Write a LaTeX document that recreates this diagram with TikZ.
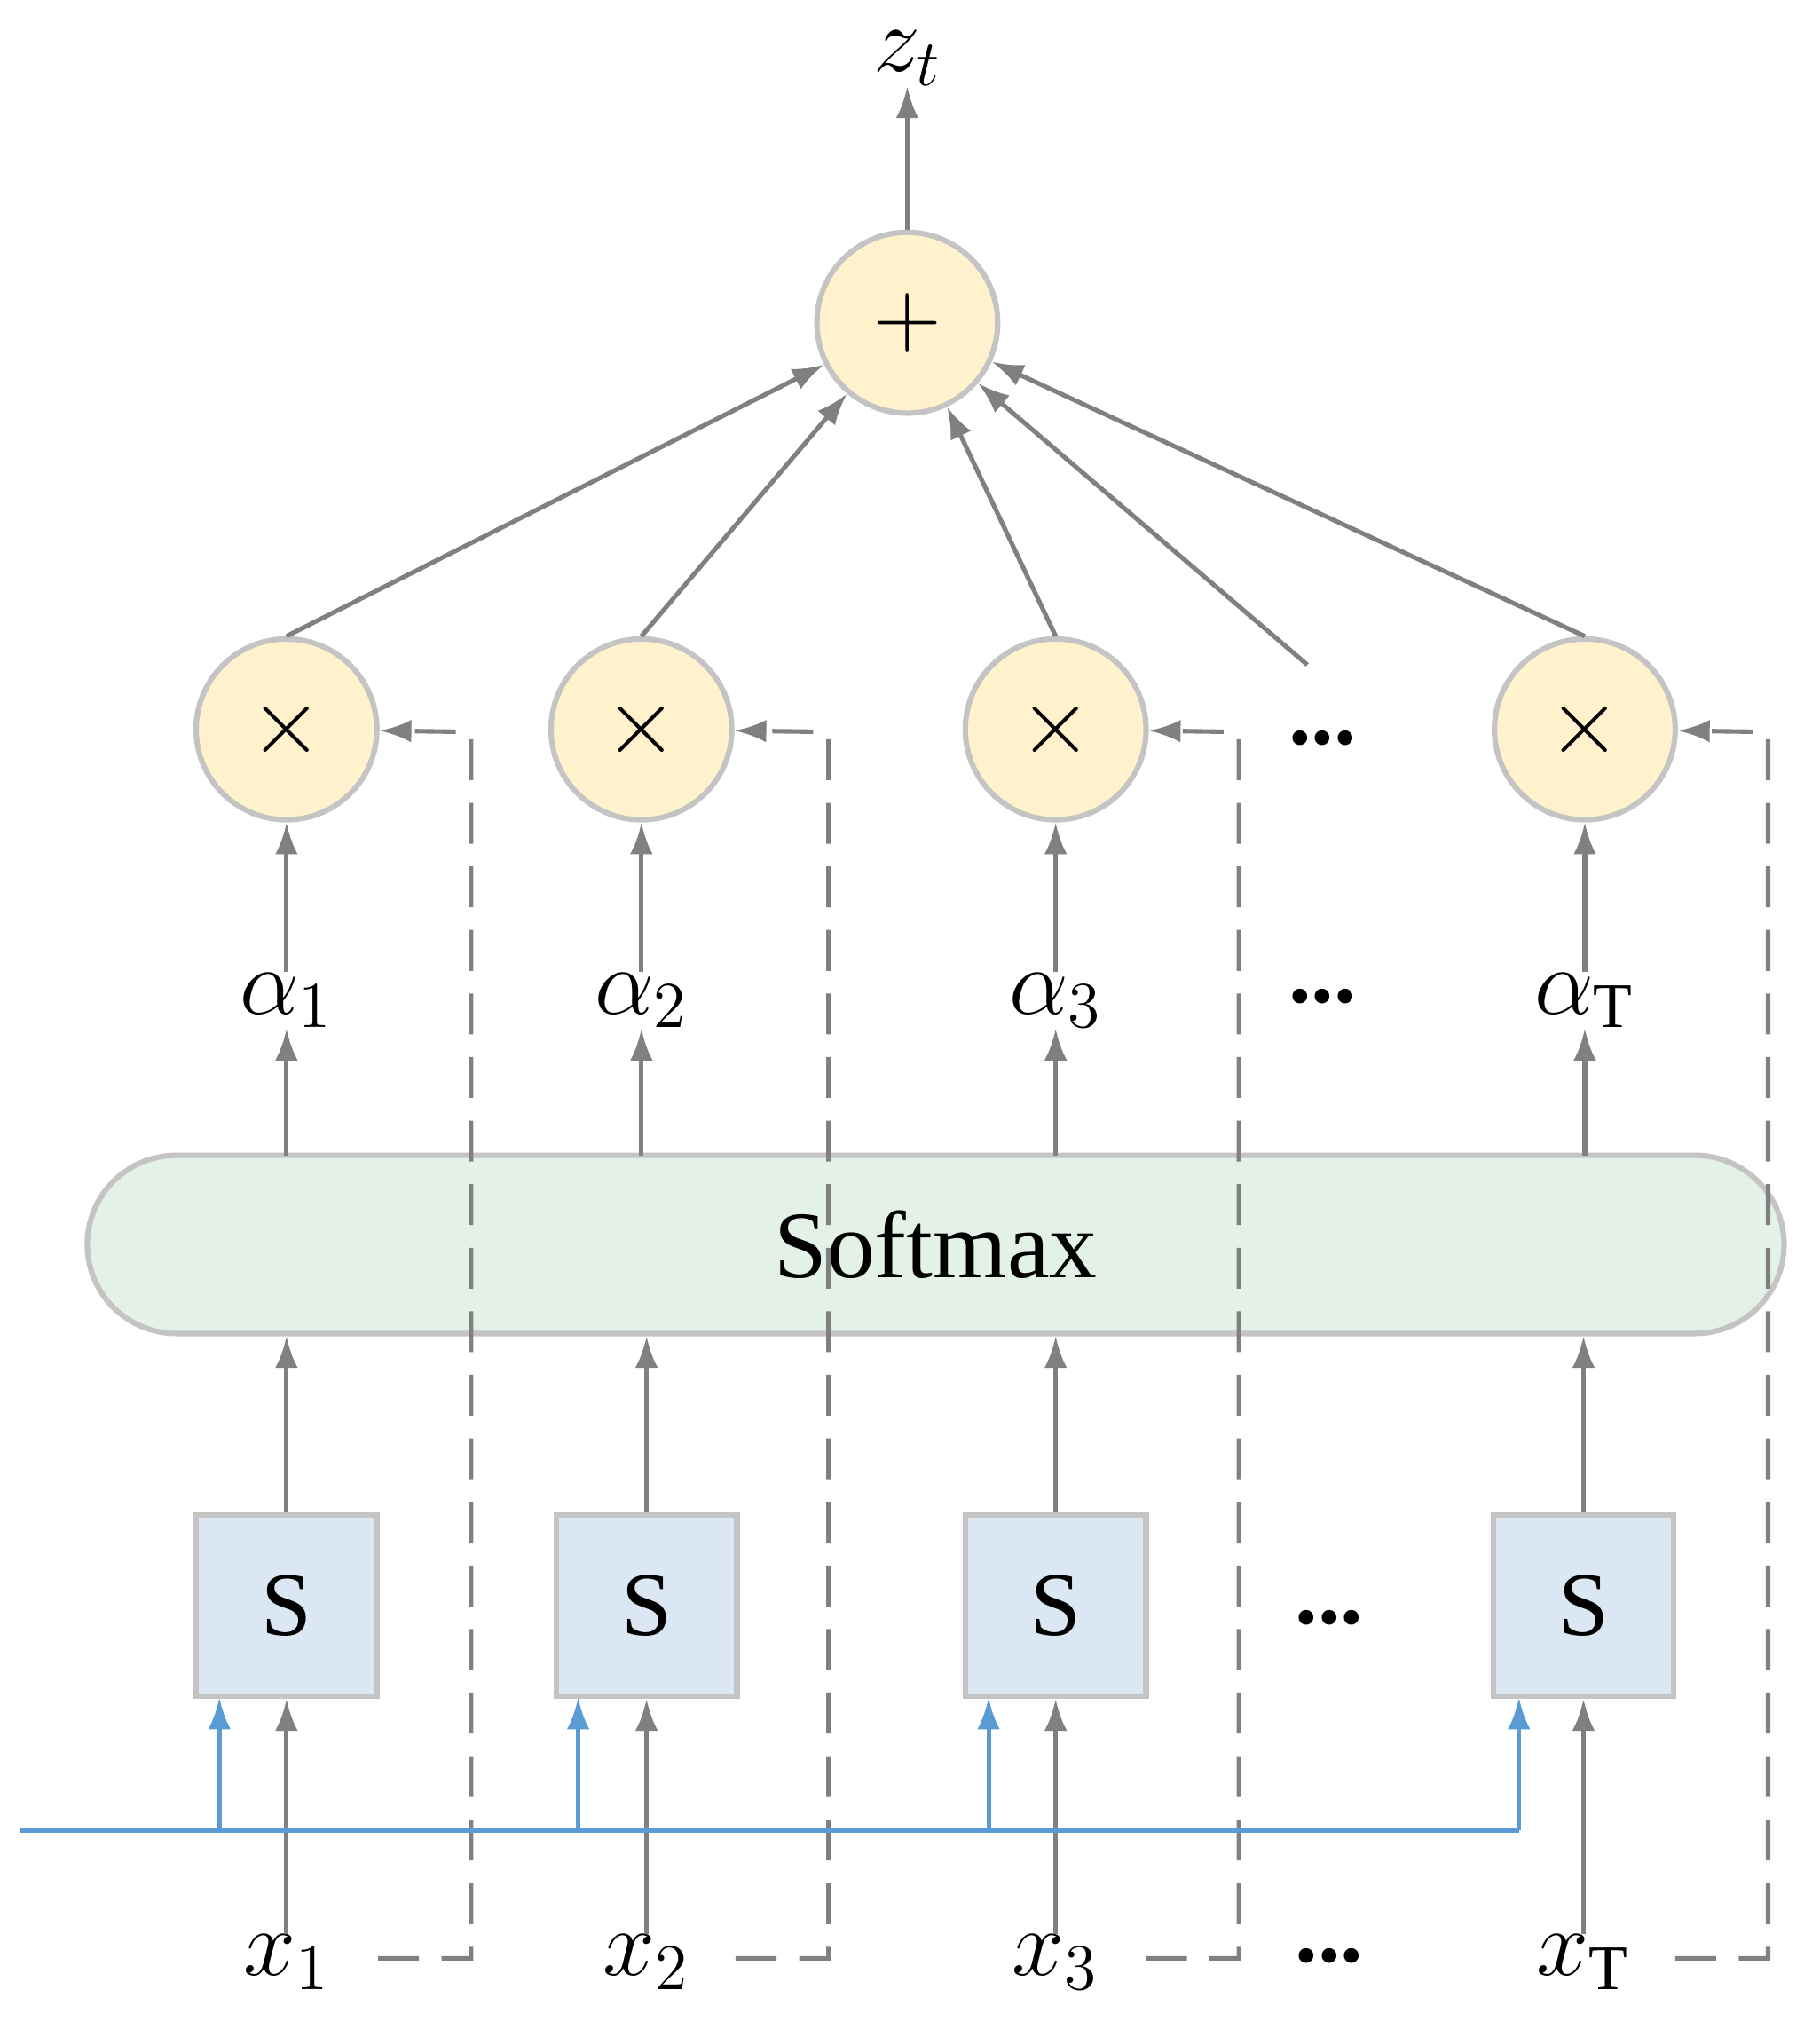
\documentclass[tikz,border=0pt]{standalone}
\usepackage{fontspec}
\setmainfont{Liberation Serif}
\usetikzlibrary{arrows.meta}
\definecolor{linegray}{HTML}{808080}
\definecolor{opfill}{HTML}{FFF2CC}
\definecolor{smfill}{HTML}{E3F1E7}
\definecolor{sfill}{HTML}{DCE7F4}
\definecolor{bordergray}{HTML}{C4C4C4}
\definecolor{feedblue}{HTML}{5B9BD5}
\tikzset{
    op/.style={circle, draw=bordergray, line width=1.2pt, fill=opfill, minimum size=1.4cm, inner sep=0pt, font=\fontsize{22}{24}\selectfont},
    sbox/.style={rectangle, draw=bordergray, line width=1.2pt, fill=sfill, minimum size=1.4cm, inner sep=0pt, font=\fontsize{20}{24}\selectfont},
    lbl/.style={inner sep=0pt, font=\fontsize{20}{24}\selectfont},
    dots/.style={inner sep=0pt, font=\fontsize{20}{24}\selectfont\bfseries},
    flow/.style={draw=linegray, line width=1pt, -{Latex[length=7pt,width=5pt]}},
    skip/.style={draw=linegray, line width=1pt, dash pattern=on 9pt off 5pt, -{Latex[length=7pt,width=5pt]}},
    feed/.style={draw=feedblue, line width=1pt, -{Latex[length=7pt,width=5pt]}},
}
\begin{document}
\begin{tikzpicture}[x=0.01cm, y=-0.01cm]
    \useasboundingbox (0,0) rectangle (1410,1578);
    % sum and output
    \node[op] (sum) at (703,250) {$+$};
    \node[lbl] (zt) at (703,45) {$z_t$};
    \draw[flow] (sum) -- (zt);
    % softmax layer
    \node[rectangle, rounded corners=0.69cm, draw=bordergray, line width=1.2pt, fill=smfill, minimum width=13.14cm, minimum height=1.38cm, font=\fontsize{21}{24}\selectfont] (softmax) at (725,964) {Softmax};
    % columns
    \foreach \i/\x/\sx/\dx/\bx/\a/\xl in {1/222/222/365/170/$\alpha_1$/$x_1$, 2/497/501/642/448/$\alpha_2$/$x_2$, 3/818/818/960/766/$\alpha_3$/$x_3$, T/1228/1227/1370/1177/$\alpha_{\mathrm{T}}$/$x_{\mathrm{T}}$} {
        \node[op] (mul\i) at (\x,565) {$\times$};
        \node[lbl] (alpha\i) at (\x,775) {\a};
        \node[sbox] (s\i) at (\sx,1244) {S};
        \node[lbl] (x\i) at (\sx,1520) {\xl};
        \draw[flow] (alpha\i) -- (mul\i);
        \draw[flow] (mul\i.north) -- (sum);
        \draw[flow] (\x,895) -- (alpha\i);
        \draw[flow] (s\i) -- (\sx,1035);
        \draw[flow] (x\i) -- (s\i);
        \coordinate (tap\i) at (\bx,1418);
        \draw[feed] (tap\i) -- (\bx,1315);
        \coordinate (skip\i) at (\dx-72,1517);
        \draw[skip] (skip\i) -- (\dx,1517) -- (\dx,567) -- (mul\i);
    }
    % dots column
    \node[dots] (dotsa) at (1025,772) {...};
    \node[dots] (dotsm) at (1025,572) {...};
    \node[dots] (dotss) at (1030,1253) {...};
    \node[dots] (dotsx) at (1030,1515) {...};
    \coordinate (more) at (1013,515);
    \draw[flow] (more) -- (sum);
    % shared input line
    \coordinate (feedin) at (15,1418);
    \draw[draw=feedblue, line width=1pt] (feedin) -- (tapT);
\end{tikzpicture}
\end{document}
